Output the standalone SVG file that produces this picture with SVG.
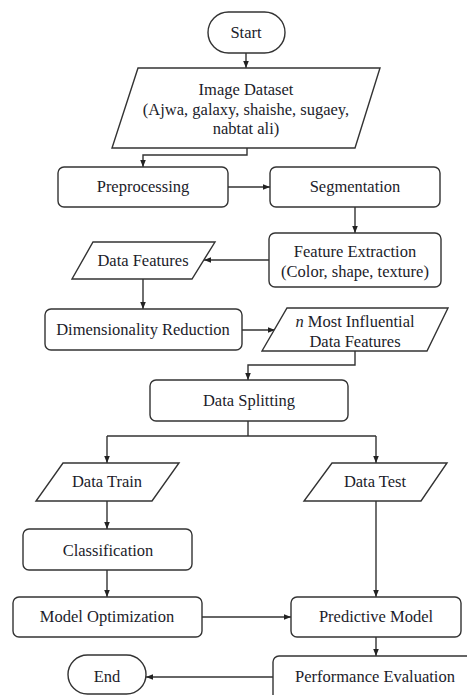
<svg xmlns="http://www.w3.org/2000/svg" width="467" height="695" viewBox="0 0 467 695">
<style>
.s{fill:#fff;stroke:#333;stroke-width:1.4}
.t{font-size:16.5px;fill:#1c1c2a;text-anchor:middle}
.c{fill:none;stroke:#333;stroke-width:1.4}
</style>
<defs>
<marker id="a" viewBox="0 0 10 10" refX="10" refY="5" markerWidth="7" markerHeight="7" markerUnits="userSpaceOnUse" orient="auto">
<path d="M0,1 L10,5 L0,9 z" fill="#222"/>
</marker>
</defs>
<rect width="467" height="695" fill="#fff"/>
<g id="connectors">
<path class="c" d="M246,53 V68" marker-end="url(#a)"/>
<path class="c" d="M247,148 V155 H143 V167" marker-end="url(#a)"/>
<path class="c" d="M228,187 H270" marker-end="url(#a)"/>
<path class="c" d="M355,207 V233" marker-end="url(#a)"/>
<path class="c" d="M269,260 H204" marker-end="url(#a)"/>
<path class="c" d="M143,279 V309" marker-end="url(#a)"/>
<path class="c" d="M242,330 H275" marker-end="url(#a)"/>
<path class="c" d="M355,351 V365 H248 V380" marker-end="url(#a)"/>
<path class="c" d="M248,421 V436 M107,436 H376"/>
<path class="c" d="M107,436 V463" marker-end="url(#a)"/>
<path class="c" d="M376,436 V463" marker-end="url(#a)"/>
<path class="c" d="M107,501 V529" marker-end="url(#a)"/>
<path class="c" d="M107,570 V597" marker-end="url(#a)"/>
<path class="c" d="M376,501 V597" marker-end="url(#a)"/>
<path class="c" d="M202,617 H291" marker-end="url(#a)"/>
<path class="c" d="M376,637 V656" marker-end="url(#a)"/>
<path class="c" d="M273,677 H146" marker-end="url(#a)"/>
</g>
<g font-family="Liberation Serif, Times New Roman, DejaVu Serif, serif">
<g id="start"><rect class="s" x="208" y="12" width="77" height="41" rx="20.5"/><text class="t" x="246" y="38">Start</text></g>
<g id="image-dataset"><path class="s" d="M138,68 H380 L355,148 H112 Z"/>
<text class="t" x="246" y="95">Image Dataset</text>
<text class="t" x="246" y="115">(Ajwa, galaxy, shaishe, sugaey,</text>
<text class="t" x="246" y="134">nabtat ali)</text></g>
<g id="preprocessing"><rect class="s" x="58" y="167" width="170" height="40" rx="6"/><text class="t" x="143" y="192">Preprocessing</text></g>
<g id="segmentation"><rect class="s" x="270" y="167" width="170" height="40" rx="6"/><text class="t" x="355" y="192">Segmentation</text></g>
<g id="feature-extraction"><rect class="s" x="269" y="233" width="172" height="54" rx="6"/>
<text class="t" x="355" y="257">Feature Extraction</text>
<text class="t" x="355" y="277">(Color, shape, texture)</text></g>
<g id="data-features"><path class="s" d="M93,242 H215 L192,279 H72 Z"/><text class="t" x="143" y="266">Data Features</text></g>
<g id="dimensionality-reduction"><rect class="s" x="45" y="309" width="197" height="41" rx="6"/><text class="t" x="143" y="335">Dimensionality Reduction</text></g>
<g id="n-most"><path class="s" d="M287,308 H448 L427,351 H262 Z"/>
<text class="t" x="355" y="327"><tspan font-style="italic">n</tspan> Most Influential</text>
<text class="t" x="355" y="347">Data Features</text></g>
<g id="data-splitting"><rect class="s" x="150" y="380" width="198" height="41" rx="6"/><text class="t" x="249" y="406">Data Splitting</text></g>
<g id="data-train"><path class="s" d="M63,463 H179 L152,501 H36 Z"/><text class="t" x="107" y="487">Data Train</text></g>
<g id="data-test"><path class="s" d="M332,463 H447 L421,501 H304 Z"/><text class="t" x="375" y="487">Data Test</text></g>
<g id="classification"><rect class="s" x="23" y="529" width="169" height="41" rx="6"/><text class="t" x="108" y="556">Classification</text></g>
<g id="model-optimization"><rect class="s" x="13" y="597" width="189" height="40" rx="6"/><text class="t" x="107" y="622">Model Optimization</text></g>
<g id="predictive-model"><rect class="s" x="291" y="597" width="170" height="40" rx="6"/><text class="t" x="376" y="622">Predictive Model</text></g>
<g id="performance-evaluation"><rect class="s" x="273" y="656" width="210" height="50" rx="6"/><text class="t" x="375" y="682">Performance Evaluation</text></g>
<g id="end"><rect class="s" x="68" y="655" width="78" height="39" rx="19.5"/><text class="t" x="107" y="682">End</text></g>
</g>
</svg>
